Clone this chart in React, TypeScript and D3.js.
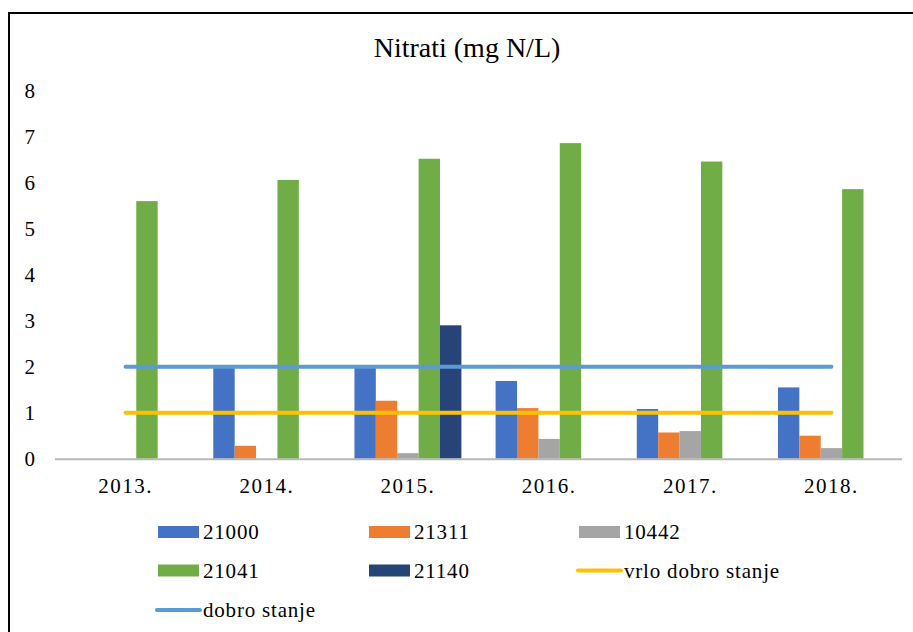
import * as d3 from "d3";
import React from "react";

const YEARS = ["2013.", "2014.", "2015.", "2016.", "2017.", "2018."];
const SERIES = ["21000", "21311", "10442", "21041", "21140"];
const COLORS = ["#4472C4", "#ED7D31", "#A5A5A5", "#70AD47", "#264478"];

// values per series, one per year (null = no bar)
const S21000 = [null, 2.0, 2.0, 1.69, 1.08, 1.55];
const S21311 = [null, 0.28, 1.26, 1.1, 0.57, 0.5];
const S10442 = [null, null, 0.12, 0.43, 0.6, 0.23];
const S21041 = [5.6, 6.06, 6.52, 6.86, 6.46, 5.86];
const S21140 = [null, null, 2.9, null, null, null];
const VALUES = [S21000, S21311, S10442, S21041, S21140];

const VRLO_DOBRO = 1; // vrlo dobro stanje
const DOBRO = 2; // dobro stanje
const Y_TICKS = [0, 1, 2, 3, 4, 5, 6, 7, 8];

const WIDTH = 913;
const HEIGHT = 632;
const PLOT = { left: 55, right: 902, top: 90.7, bottom: 458.7 };
const FONT = "Liberation Serif";

export default function App() {
  const x0 = d3.scaleBand<string>().domain(YEARS).range([PLOT.left, PLOT.right]);
  const barW = x0.bandwidth() / (SERIES.length + 1.6);
  const groupOffset = (x0.bandwidth() - barW * SERIES.length) / 2;
  const x1 = d3
    .scaleBand<string>()
    .domain(SERIES)
    .range([0, barW * SERIES.length]);
  const y = d3.scaleLinear().domain([0, 8]).range([PLOT.bottom, PLOT.top]);

  const lineX1 = (x0(YEARS[0]) ?? 0) + x0.bandwidth() / 2;
  const lineX2 = (x0(YEARS[YEARS.length - 1]) ?? 0) + x0.bandwidth() / 2;

  const legendCols = [158, 369, 579];
  const legendRows = [532, 570.5, 610];
  const legendItems: { label: string; color: string; kind: "bar" | "line" }[] = [
    ...SERIES.map((s, i) => ({ label: s, color: COLORS[i], kind: "bar" as const })),
    { label: "vrlo dobro stanje", color: "#FFC000", kind: "line" },
    { label: "dobro stanje", color: "#5B9BD5", kind: "line" },
  ];

  const textStyle = { fontFamily: FONT };

  return (
    <svg
      width={WIDTH}
      height={HEIGHT}
      style={{ position: "absolute", left: 0, top: 0, background: "#fff", fontFamily: FONT }}
    >
      <rect x={0} y={0} width={WIDTH} height={HEIGHT} fill="#fff" />
      <rect x={9} y={13} width={WIDTH + 20} height={HEIGHT + 20} fill="none" stroke="#000" strokeWidth={2} />

      <text x={467} y={57} textAnchor="middle" fontSize={28} fill="#000" style={textStyle}>
        Nitrati (mg N/L)
      </text>

      {Y_TICKS.map((t) => (
        <text key={t} x={35} y={y(t)} dy="0.35em" textAnchor="end" fontSize={21} fill="#000" style={textStyle}>
          {t}
        </text>
      ))}

      {YEARS.map((yr, yi) => (
        <g key={yr} transform={`translate(${(x0(yr) ?? 0) + groupOffset},0)`}>
          {SERIES.map((s, si) => {
            const v = VALUES[si][yi];
            if (v == null) return null;
            return (
              <rect
                key={s}
                x={x1(s)}
                y={y(v)}
                width={barW}
                height={y(0) - y(v)}
                fill={COLORS[si]}
              />
            );
          })}
        </g>
      ))}

      <line x1={PLOT.left} x2={PLOT.right} y1={y(0) + 0.5} y2={y(0) + 0.5} stroke="#B8B8B8" strokeWidth={2} />

      {YEARS.map((yr) => (
        <text
          key={yr}
          x={(x0(yr) ?? 0) + x0.bandwidth() / 2}
          y={493}
          textAnchor="middle"
          fontSize={21}
          letterSpacing={1.5}
          fill="#000"
          style={textStyle}
        >
          {yr}
        </text>
      ))}

      <line x1={lineX1} x2={lineX2} y1={y(DOBRO)} y2={y(DOBRO)} stroke="#5B9BD5" strokeWidth={4} strokeLinecap="round" />
      <line x1={lineX1} x2={lineX2} y1={y(VRLO_DOBRO)} y2={y(VRLO_DOBRO)} stroke="#FFC000" strokeWidth={4} strokeLinecap="round" />

      {legendItems.map((item, i) => {
        const cx = legendCols[i % 3];
        const cy = legendRows[Math.floor(i / 3)];
        return (
          <g key={item.label}>
            {item.kind === "bar" ? (
              <rect x={cx} y={cy - 6} width={41} height={12} fill={item.color} />
            ) : (
              <line x1={cx - 1} x2={cx + 42} y1={cy} y2={cy} stroke={item.color} strokeWidth={4} strokeLinecap="round" />
            )}
            <text x={cx + 45} y={cy + 7} fontSize={21} letterSpacing={0.8} fill="#000" style={textStyle}>
              {item.label}
            </text>
          </g>
        );
      })}
    </svg>
  );
}
